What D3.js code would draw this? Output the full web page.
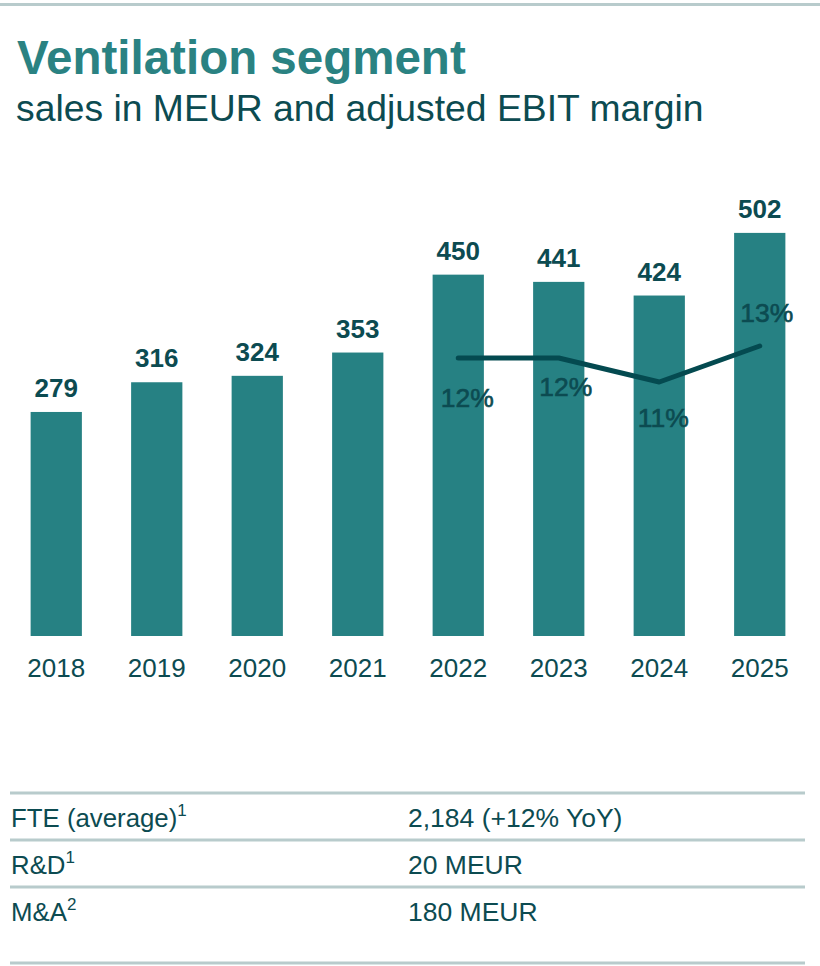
<!DOCTYPE html>
<html>
<head>
<meta charset="utf-8">
<script src="https://cdn.jsdelivr.net/npm/d3@7"></script>
<style>
  html, body { margin: 0; padding: 0; background: #fff; }
  svg { display: block; font-family: "Liberation Sans", Arial, sans-serif; }
</style>
</head>
<body>
<svg id="chart" width="820" height="966"></svg>
<script>
// ---- data ----
const years = ["2018", "2019", "2020", "2021", "2022", "2023", "2024", "2025"];
const sales = [279, 316, 324, 353, 450, 441, 424, 502];
const marginYears = ["2022", "2023", "2024", "2025"];
const marginValues = [12.0, 12.0, 11.0, 12.5];
const marginLabels = ["12%", "12%", "11%", "13%"];
const tableLabels = ["FTE (average)", "R&D", "M&A"];
const tableNotes = ["1", "1", "2"];
const tableValues = ["2,184 (+12% YoY)", "20 MEUR", "180 MEUR"];

// ---- layout ----
const labelDx = [9, 7, 4, 7];
const labelDy = [49, 38, 45, -24];

const C = {
  title: "#2a8282",
  text: "#0c4b51",
  bar: "#268183",
  line: "#044a50",
  rule: "#b8cbcc"
};

const svg = d3.select("#chart");

// top rule
svg.append("rect").attr("x", 0).attr("y", 3).attr("width", 820).attr("height", 3).attr("fill", C.rule);

// titles
svg.append("text").attr("x", 17).attr("y", 74)
  .attr("font-size", 47.5).attr("font-weight", "bold").attr("fill", C.title)
  .text("Ventilation segment");
svg.append("text").attr("x", 16).attr("y", 121)
  .attr("font-size", 37.3).attr("fill", C.text)
  .text("sales in MEUR and adjusted EBIT margin");

// scales
const x = d3.scaleBand().domain(years).range([6, 810]).paddingInner(0.49).paddingOuter(0.245);
const y = d3.scaleLinear().domain([0, 500]).range([636, 234.5]);
const ym = d3.scaleLinear().domain([11, 12]).range([382, 358]);

// bars
svg.append("g").selectAll("rect").data(years).join("rect")
  .attr("x", d => x(d))
  .attr("y", (d, i) => y(sales[i]))
  .attr("width", x.bandwidth())
  .attr("height", (d, i) => y(0) - y(sales[i]))
  .attr("fill", C.bar);

// value labels
svg.append("g").selectAll("text").data(years).join("text")
  .attr("x", d => x(d) + x.bandwidth() / 2)
  .attr("y", (d, i) => y(sales[i]) - 15)
  .attr("text-anchor", "middle")
  .attr("font-size", 26).attr("font-weight", "bold").attr("fill", C.text)
  .text((d, i) => sales[i]);

// x axis labels
const xAxis = d3.axisBottom(x).tickSize(0).tickPadding(0);
const gx = svg.append("g").attr("transform", "translate(0,636)").call(xAxis);
gx.select(".domain").remove();
gx.selectAll("text")
  .attr("dy", 0).attr("y", 41)
  .attr("font-size", 26).attr("fill", C.text)
  .attr("font-family", "'Liberation Sans', Arial, sans-serif");

// margin line
const line = d3.line()
  .x((d, i) => x(marginYears[i]) + x.bandwidth() / 2)
  .y(d => ym(d));
svg.append("path").datum(marginValues)
  .attr("d", line)
  .attr("fill", "none").attr("stroke", C.line)
  .attr("stroke-width", 5).attr("stroke-linecap", "round").attr("stroke-linejoin", "round");

// margin labels
svg.append("g").selectAll("text").data(marginValues).join("text")
  .attr("x", (d, i) => x(marginYears[i]) + x.bandwidth() / 2 + labelDx[i])
  .attr("y", (d, i) => ym(d) + labelDy[i])
  .attr("text-anchor", "middle")
  .attr("font-size", 26.5).attr("fill", C.text)
  .attr("stroke", C.text).attr("stroke-width", 0.6)
  .text((d, i) => marginLabels[i]);

// table
const rowY = d3.scaleLinear().domain([0, 1]).range([827, 874]);
const ruleY = [793, 840, 887, 963];
svg.append("g").selectAll("rect").data(ruleY).join("rect")
  .attr("x", 10).attr("y", d => d - 1.5).attr("width", 795).attr("height", 3)
  .attr("fill", C.rule);

const rows = svg.append("g").selectAll("g").data(tableLabels).join("g");
rows.append("text")
  .attr("x", 11).attr("y", (d, i) => rowY(i))
  .attr("font-size", 25.8).attr("fill", C.text)
  .text(d => d)
  .append("tspan").attr("dy", -11).attr("font-size", 17)
  .text((d, i) => tableNotes[i]);
rows.append("text")
  .attr("x", 408).attr("y", (d, i) => rowY(i))
  .attr("font-size", 26.5).attr("fill", C.text)
  .text((d, i) => tableValues[i]);
</script>
</body>
</html>
